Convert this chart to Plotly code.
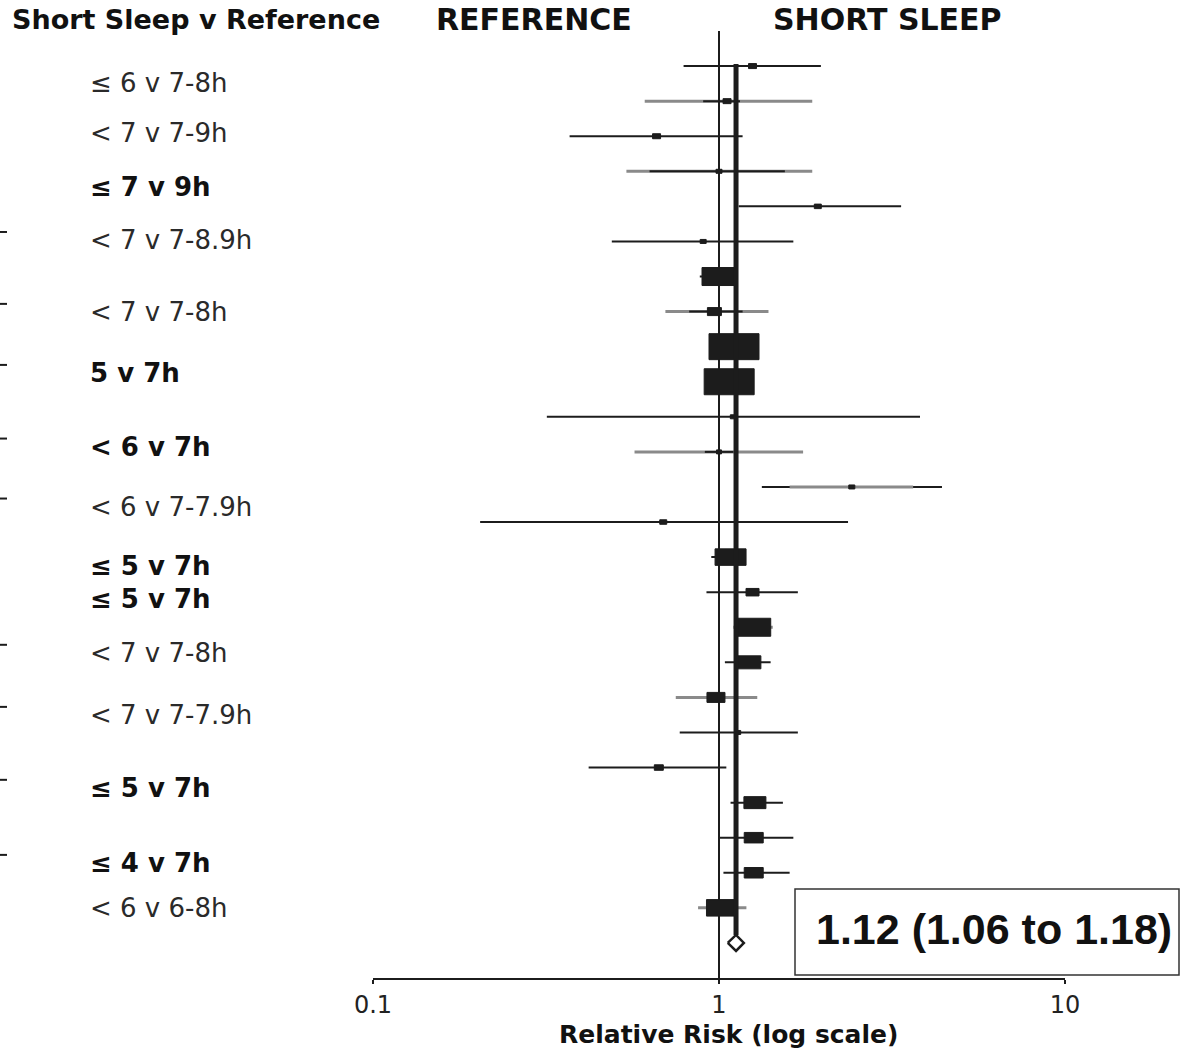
import plotly.graph_objects as go

# ---------------- data ----------------
rows = list(range(1, 26))
rr = [1.25, 1.055, 0.66, 1.00, 1.93, 0.90, 1.00, 0.97, 1.105, 1.07, 1.10, 1.00, 2.42,
      0.69, 1.08, 1.25, 1.26, 1.22, 0.98, 1.14, 0.67, 1.27, 1.26, 1.26, 1.02]
lo = [0.79, 0.61, 0.37, 0.54, 1.14, 0.49, 0.88, 0.70, 1.05, 1.02, 0.318, 0.57, 1.33,
      0.204, 0.95, 0.92, 1.10, 1.04, 0.75, 0.77, 0.42, 1.08, 1.00, 1.03, 0.87]
hi = [1.97, 1.86, 1.17, 1.86, 3.36, 1.64, 1.13, 1.39, 1.16, 1.12, 3.81, 1.75, 4.41,
      2.36, 1.19, 1.69, 1.43, 1.41, 1.29, 1.69, 1.05, 1.53, 1.64, 1.60, 1.20]
weight = [8, 8, 8, 6, 7, 6, 34, 14, 50, 50, 6, 5, 6, 7, 31, 13, 34, 24, 18, 4, 9, 22, 19, 19, 31]
ci_tone = ["k", "g", "k", "g", "k", "k", "k", "g", "k", "k", "k", "g", "k",
           "k", "k", "k", "g", "k", "g", "k", "k", "k", "k", "k", "g"]
# inner segments drawn in the opposite tone (row, lo, hi)
inner_row = [2, 4, 8, 12, 13]
inner_lo = [0.90, 0.63, 0.82, 0.91, 1.60]
inner_hi = [1.15, 1.55, 1.17, 1.10, 3.64]

pooled_rr, pooled_lo, pooled_hi = 1.12, 1.06, 1.18
pooled_row = 26
pooled_text = "1.12 (1.06 to 1.18)"

labels = ["≤ 6 v 7-8h", "< 7 v 7-9h", "≤ 7 v 9h", "< 7 v 7-8.9h", "< 7 v 7-8h", "5 v 7h",
          "< 6 v 7h", "< 6 v 7-7.9h", "≤ 5 v 7h", "≤ 5 v 7h", "< 7 v 7-8h", "< 7 v 7-7.9h",
          "≤ 5 v 7h", "≤ 4 v 7h", "< 6 v 6-8h"]
label_row = [1.48, 2.9, 4.45, 5.96, 8.01, 9.75, 11.85, 13.56, 15.25, 16.19, 17.73, 19.5,
             21.58, 23.72, 25.0]
label_bold = [False, False, True, False, False, True, True, False, True, True, False,
              False, True, True, False]
# labels that have a cut-off mark at the far left edge
edge_mark = [False, False, False, True, True, True, True, True, False, False, True, True,
             True, True, False]

header_left = "Short Sleep v Reference"
header_ref = "REFERENCE"
header_short = "SHORT SLEEP"
x_title = "Relative Risk (log scale)"
tick_vals = [0.1, 1, 10]
tick_text = ["0.1", "1", "10"]

# ---------------- layout constants ----------------
W, H = 1180, 1051
L, R, T, B = 373, 115, 31, 73
PW, PH = W - L - R, H - T - B
DECADE_PX = PW / 2.0
ROW_PX = PH / 27.0
BLACK = "#1c1c1c"
GRAY = "#8a8a8a"


def px_x(px):
    return (px - L) / PW


def px_y(py):
    return (H - B - py) / PH


fig = go.Figure()

# CI lines
for tone, col, wd in (("g", GRAY, 3), ("k", BLACK, 2)):
    xs, ys = [], []
    for r, a, b, t in zip(rows, lo, hi, ci_tone):
        if t == tone:
            xs += [a, b, None]
            ys += [r, r, None]
    fig.add_trace(go.Scatter(x=xs, y=ys, mode="lines", line=dict(color=col, width=wd),
                             hoverinfo="skip", showlegend=False))

# inner segments in opposite tone
for tone, col, wd in (("g", GRAY, 3), ("k", BLACK, 2)):
    xs, ys = [], []
    for r, a, b in zip(inner_row, inner_lo, inner_hi):
        outer = ci_tone[r - 1]
        if outer != tone:
            xs += [a, b, None]
            ys += [r, r, None]
    if xs:
        fig.add_trace(go.Scatter(x=xs, y=ys, mode="lines", line=dict(color=col, width=wd),
                                 hoverinfo="skip", showlegend=False))

# thin reference line at 1
fig.add_trace(go.Scatter(x=[1, 1], y=[0, 27.3], mode="lines",
                         line=dict(color=BLACK, width=2), hoverinfo="skip", showlegend=False))

# boxes (weighted squares)
bx, by = [], []
for r, c, w in zip(rows, rr, weight):
    hw = 10 ** (w / 2.0 / DECADE_PX)
    hpx = max(0.5 * w + 1, 4)
    hh = hpx / 2.0 / ROW_PX
    bx += [c / hw, c * hw, c * hw, c / hw, c / hw, None]
    by += [r - hh, r - hh, r + hh, r + hh, r - hh, None]
fig.add_trace(go.Scatter(x=bx, y=by, mode="lines", fill="toself", fillcolor=BLACK,
                         line=dict(color=BLACK, width=1), hoverinfo="skip", showlegend=False))

# thick pooled line
dh = 8.0 / ROW_PX
fig.add_trace(go.Scatter(x=[pooled_rr, pooled_rr], y=[0.94, pooled_row - dh], mode="lines",
                         line=dict(color=BLACK, width=5), hoverinfo="skip", showlegend=False))

# pooled diamond
fig.add_trace(go.Scatter(x=[pooled_lo, pooled_rr, pooled_hi, pooled_rr, pooled_lo],
                         y=[pooled_row, pooled_row - dh, pooled_row, pooled_row + dh, pooled_row],
                         mode="lines", fill="toself", fillcolor="white",
                         line=dict(color=BLACK, width=2.5), hoverinfo="skip", showlegend=False))

annotations = []
for txt, yr, bold in zip(labels, label_row, label_bold):
    annotations.append(dict(
        text=f"<b>{txt}</b>" if bold else txt, x=px_x(88), xref="paper", xanchor="left",
        y=yr, yref="y", yanchor="middle", showarrow=False,
        font=dict(family="DejaVu Sans", size=26, color="#111" if bold else "#2a2a2a")))

shapes = []
for yr, m in zip(label_row, edge_mark):
    if m:
        shapes.append(dict(type="line", xref="paper", yref="y", x0=px_x(0), x1=px_x(7),
                           y0=yr - 0.23, y1=yr - 0.23, line=dict(color=BLACK, width=2)))

annotations += [
    dict(text=f"<b>{header_left}</b>", x=px_x(10), xref="paper", xanchor="left",
         y=px_y(20), yref="paper", yanchor="middle", showarrow=False,
         font=dict(family="DejaVu Sans", size=27, color="#111")),
    dict(text=f"<b>{header_ref}</b>", x=px_x(434), xref="paper", xanchor="left",
         y=px_y(20), yref="paper", yanchor="middle", showarrow=False,
         font=dict(family="DejaVu Sans", size=30, color="#111")),
    dict(text=f"<b>{header_short}</b>", x=px_x(771), xref="paper", xanchor="left",
         y=px_y(20), yref="paper", yanchor="middle", showarrow=False,
         font=dict(family="DejaVu Sans", size=30, color="#111")),
    dict(text=f"<b>{x_title}</b>", x=px_x(728), xref="paper", xanchor="center",
         y=px_y(1051), yref="paper", yanchor="bottom", showarrow=False,
         font=dict(family="DejaVu Sans", size=25, color="#111")),
    dict(text=f"<b>{pooled_text}</b>", x=px_x(994), xref="paper", xanchor="center",
         y=px_y(929), yref="paper", yanchor="middle", showarrow=False,
         font=dict(family="Liberation Sans", size=43, color="#111")),
]

shapes.append(dict(type="rect", xref="paper", yref="paper", x0=px_x(795), x1=px_x(1179),
                   y0=px_y(975), y1=px_y(889), line=dict(color="#333", width=1.5),
                   fillcolor="white", layer="below"))

fig.update_layout(
    width=W, height=H, margin=dict(l=L, r=R, t=T, b=B),
    paper_bgcolor="white", plot_bgcolor="white",
    showlegend=False, annotations=annotations, shapes=shapes,
    xaxis=dict(type="log", range=[-1, 1], tickvals=tick_vals, ticktext=tick_text,
               showgrid=False, zeroline=False, showline=True, linecolor=BLACK, linewidth=2,
               ticks="outside", ticklen=4, tickwidth=2, tickcolor=BLACK,
               ticklabelstandoff=0,
               tickfont=dict(family="DejaVu Sans", size=24, color="#222")),
    yaxis=dict(range=[27, 0], showgrid=False, zeroline=False, showticklabels=False,
               showline=False, ticks=""),
)

fig.write_html("out.html", config={"displayModeBar": False},
               post_script="document.body.style.margin='0';document.body.style.padding='0';")
